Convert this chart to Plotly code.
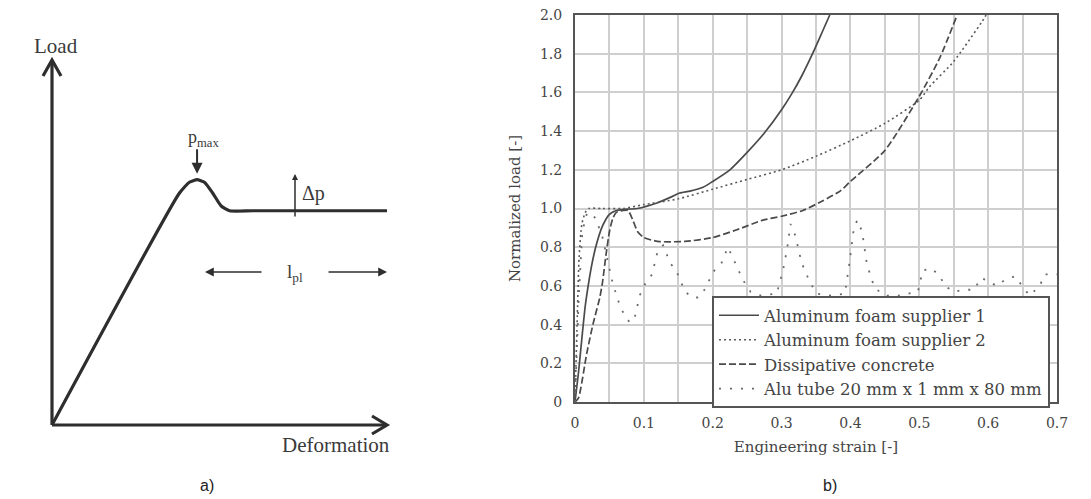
import plotly.graph_objects as go

W, H = 1091, 499
OFF = 8  # page body margin of the rendered html

# ---------------- Panel a) schematic data (normalized units) ----------------
schem_deform = [0, 0.38, 0.41, 0.433, 0.455, 0.48, 0.505, 0.53, 0.6, 1.0]
schem_load = [0, 0.635, 0.665, 0.672, 0.665, 0.635, 0.6, 0.587, 0.587, 0.587]

# ---------------- Panel b) data ----------------
foam1_strain = [0, 0.005, 0.01, 0.015, 0.02, 0.025, 0.03, 0.04, 0.05, 0.06, 0.07, 0.09,
                0.12, 0.14, 0.152, 0.167, 0.186, 0.2, 0.225, 0.25, 0.275, 0.3, 0.316,
                0.33, 0.345, 0.36, 0.37]
foam1_load = [0, 0.15, 0.33, 0.5, 0.62, 0.72, 0.8, 0.91, 0.97, 0.99, 0.995, 1.0,
              1.03, 1.06, 1.08, 1.09, 1.11, 1.14, 1.2, 1.29, 1.39, 1.51, 1.6,
              1.69, 1.8, 1.92, 2.0]

foam2_strain = [0, 0.003, 0.006, 0.01, 0.015, 0.02, 0.04, 0.07, 0.1, 0.15, 0.2, 0.25,
                0.3, 0.35, 0.4, 0.45, 0.5, 0.515, 0.55, 0.59, 0.597]
foam2_load = [0, 0.4, 0.75, 0.92, 0.98, 1.0, 1.0, 1.0, 1.02, 1.05, 1.1, 1.15,
              1.2, 1.27, 1.35, 1.44, 1.56, 1.63, 1.76, 1.96, 2.0]

concrete_strain = [0, 0.005, 0.017, 0.026, 0.036, 0.04, 0.045, 0.05, 0.055, 0.06, 0.07,
                   0.077, 0.084, 0.091, 0.1, 0.12, 0.16, 0.2, 0.235, 0.273, 0.3, 0.331,
                   0.36, 0.385, 0.4, 0.45, 0.5, 0.53, 0.555]
concrete_load = [0, 0.02, 0.25, 0.4, 0.54, 0.62, 0.76, 0.88, 0.95, 0.98, 0.99,
                 0.99, 0.94, 0.88, 0.85, 0.83, 0.83, 0.85, 0.89, 0.94, 0.96, 0.99,
                 1.04, 1.09, 1.14, 1.3, 1.58, 1.78, 2.0]

tube_strain = [0, 0.005, 0.01, 0.015, 0.02, 0.03, 0.04, 0.05, 0.055, 0.065, 0.073, 0.08,
               0.087, 0.094, 0.1, 0.112, 0.12, 0.128, 0.138, 0.148, 0.16, 0.17, 0.18,
               0.19, 0.2, 0.213, 0.222, 0.23, 0.244, 0.255, 0.27, 0.293, 0.302, 0.308,
               0.313, 0.32, 0.329, 0.341, 0.351, 0.37, 0.392, 0.399, 0.405, 0.41, 0.417,
               0.424, 0.435, 0.45, 0.47, 0.498, 0.505, 0.518, 0.53, 0.537, 0.55, 0.566,
               0.58, 0.589, 0.598, 0.612, 0.624, 0.639, 0.65, 0.66, 0.675, 0.682, 0.7]
tube_load = [0, 0.5, 0.85, 0.96, 0.98, 0.95, 0.85, 0.7, 0.61, 0.5, 0.44, 0.41,
             0.44, 0.55, 0.6, 0.66, 0.78, 0.81, 0.72, 0.67, 0.57, 0.54, 0.54,
             0.59, 0.67, 0.72, 0.8, 0.74, 0.63, 0.57, 0.55, 0.56, 0.68, 0.79,
             0.92, 0.86, 0.72, 0.62, 0.56, 0.55, 0.56, 0.73, 0.9, 0.94, 0.88,
             0.71, 0.59, 0.55, 0.55, 0.57, 0.68, 0.69, 0.65, 0.6, 0.57, 0.58,
             0.58, 0.64, 0.63, 0.6, 0.63, 0.65, 0.6, 0.55, 0.6, 0.66, 0.66]

x_ticks = [0, 0.1, 0.2, 0.3, 0.4, 0.5, 0.6, 0.7]
x_ticktext = ["0", "0.1", "0.2", "0.3", "0.4", "0.5", "0.6", "0.7"]
y_ticks = [0, 0.2, 0.4, 0.6, 0.8, 1.0, 1.2, 1.4, 1.6, 1.8, 2.0]
y_ticktext = ["0", "0.2", "0.4", "0.6", "0.8", "1.0", "1.2", "1.4", "1.6", "1.8", "2.0"]

SERIF = "DejaVu Serif"
TNR = "Liberation Serif"
INK = "#3a3a3a"

fig = go.Figure()

# ---------- panel b traces ----------
fig.add_trace(go.Scatter(x=foam1_strain, y=foam1_load, mode="lines",
                         name="Aluminum foam supplier 1", xaxis="x2", yaxis="y2",
                         line=dict(color="#4a4a4a", width=1.7, shape="spline", smoothing=0.6)))
fig.add_trace(go.Scatter(x=foam2_strain, y=foam2_load, mode="lines",
                         name="Aluminum foam supplier 2", xaxis="x2", yaxis="y2",
                         line=dict(color="#5a5a5a", width=1.6, dash="2px,3px", shape="spline", smoothing=0.6)))
fig.add_trace(go.Scatter(x=concrete_strain, y=concrete_load, mode="lines",
                         name="Dissipative concrete", xaxis="x2", yaxis="y2",
                         line=dict(color="#4a4a4a", width=1.7, dash="7px,3px", shape="spline", smoothing=0.6)))
fig.add_trace(go.Scatter(x=tube_strain, y=tube_load, mode="lines",
                         name="Alu tube 20 mm x 1 mm x 80 mm", xaxis="x2", yaxis="y2",
                         line=dict(color="#6a6a6a", width=1.8, dash="2px,9px")))

# ---------- panel a trace ----------
fig.add_trace(go.Scatter(x=schem_deform, y=schem_load, mode="lines", showlegend=False,
                         xaxis="x", yaxis="y", hoverinfo="skip",
                         line=dict(color="#2e2e2e", width=3.2, shape="spline", smoothing=0.5)))


def px2x(px):
    return (px - OFF) / W


def py2y(py):
    return 1 - (py - OFF) / H


# schematic axes frame (pixel anchors of the drawing)
sx0, sx1 = 52, 387
sy0, sy1 = 425, 60
dxu = 1 / (sx1 - sx0)
dyu = 1 / (sy0 - sy1)

A = dict(color="#2e2e2e", width=3.2)
layout_shapes = [
    dict(type="line", xref="paper", yref="paper", x0=px2x(sx0), y0=py2y(sy0),
         x1=px2x(sx0), y1=py2y(sy1), line=A),
    dict(type="line", xref="paper", yref="paper", x0=px2x(sx0), y0=py2y(sy0),
         x1=px2x(sx1), y1=py2y(sy0), line=A),
    dict(type="path", xref="paper", yref="paper",
         path=f"M {px2x(sx0-9)},{py2y(sy1+16)} L {px2x(sx0)},{py2y(sy1)} L {px2x(sx0+9)},{py2y(sy1+16)}",
         line=A),
    dict(type="path", xref="paper", yref="paper",
         path=f"M {px2x(sx1-15)},{py2y(sy0-9)} L {px2x(sx1)},{py2y(sy0)} L {px2x(sx1-15)},{py2y(sy0+9)}",
         line=A),
]


def txt(px, py, text, family, size, color=INK):
    return dict(xref="paper", yref="paper", x=px2x(px), y=py2y(py), text=text,
                showarrow=False, xanchor="center", yanchor="middle",
                font=dict(family=family, size=size, color=color))


annotations = []
# p_max arrow
annotations.append(dict(xref="x", yref="y", x=0.433, y=0.672 + 6 * dyu, ax=0, ay=-26,
                        text="", showarrow=True, arrowhead=2, arrowsize=1.1, arrowwidth=2,
                        arrowcolor="#2e2e2e"))
annotations.append(txt(203, 139, "p<sub>max</sub>", TNR, 18))
# delta p
dpx = (295 - sx0) * dxu
annotations.append(dict(xref="x", yref="y", x=dpx, y=(sy0 - 174) * dyu, ax=0, ay=44,
                        text="", showarrow=True, arrowhead=2, arrowsize=0.8, arrowwidth=1.5,
                        arrowcolor="#2e2e2e"))
annotations.append(txt(314, 193, "Δp", TNR, 20))
# l_pl arrows
lply = (sy0 - 272) * dyu
annotations.append(dict(xref="x", yref="y", x=(205 - sx0) * dxu, y=lply,
                        ax=(263 - sx0) * dxu, ay=lply, axref="x", ayref="y",
                        text="", showarrow=True, arrowhead=2, arrowsize=1.1, arrowwidth=1.6,
                        arrowcolor="#2e2e2e"))
annotations.append(dict(xref="x", yref="y", x=1.0, y=lply,
                        ax=(327 - sx0) * dxu, ay=lply, axref="x", ayref="y",
                        text="", showarrow=True, arrowhead=2, arrowsize=1.1, arrowwidth=1.6,
                        arrowcolor="#2e2e2e"))
annotations.append(txt(295, 273, "l<sub>pl</sub>", TNR, 19))
annotations.append(txt(56, 46, "Load", TNR, 21))
annotations.append(txt(336, 445, "Deformation", TNR, 21))
annotations.append(txt(207, 485, "a)", "Liberation Sans", 16, "#222"))
annotations.append(txt(830, 485, "b)", "Liberation Sans", 16, "#222"))

GRID = "#cfcfcf"
fig.update_layout(
    width=W, height=H,
    margin=dict(l=0, r=0, t=0, b=0, pad=0, autoexpand=False),
    paper_bgcolor="white", plot_bgcolor="white",
    showlegend=True,
    xaxis=dict(domain=[px2x(sx0), px2x(sx1)], range=[0, 1], visible=False, fixedrange=True,
               automargin=False),
    yaxis=dict(domain=[py2y(sy0), py2y(sy1)], range=[0, 1], visible=False, fixedrange=True,
               automargin=False),
    xaxis2=dict(domain=[px2x(575), px2x(1057)], range=[0, 0.7], anchor="y2",
                tickvals=x_ticks, ticktext=x_ticktext, automargin=False,
                ticklabeloverflow="allow",
                showgrid=True, gridcolor=GRID, gridwidth=1.5,
                minor=dict(dtick=0.05, tick0=0, showgrid=True, gridcolor=GRID, gridwidth=1.5),
                showline=True, mirror=True, linecolor="#555", linewidth=2,
                ticks="outside", ticklen=7, tickcolor="rgba(0,0,0,0)",
                zeroline=False,
                tickfont=dict(family=SERIF, size=14, color="#444"),
                title=dict(text="Engineering strain [-]", standoff=12,
                           font=dict(family=SERIF, size=15, color="#444"))),
    yaxis2=dict(domain=[py2y(402), py2y(15)], range=[0, 2.0], anchor="x2",
                tickvals=y_ticks, ticktext=y_ticktext, automargin=False,
                ticklabeloverflow="allow",
                showgrid=True, gridcolor=GRID, gridwidth=1.5,
                showline=True, mirror=True, linecolor="#555", linewidth=2,
                ticks="outside", ticklen=8, tickcolor="rgba(0,0,0,0)",
                zeroline=False,
                tickfont=dict(family=SERIF, size=14, color="#444"),
                title=dict(text="Normalized load [-]", standoff=16,
                           font=dict(family=SERIF, size=15, color="#444"))),
    legend=dict(x=px2x(712), y=py2y(296), xanchor="left", yanchor="top",
                bgcolor="white", bordercolor="#555", borderwidth=2,
                font=dict(family=SERIF, size=16.5, color="#444"),
                tracegroupgap=0, itemwidth=40),
    shapes=layout_shapes,
    annotations=annotations,
)

fig.write_html("out.html")
